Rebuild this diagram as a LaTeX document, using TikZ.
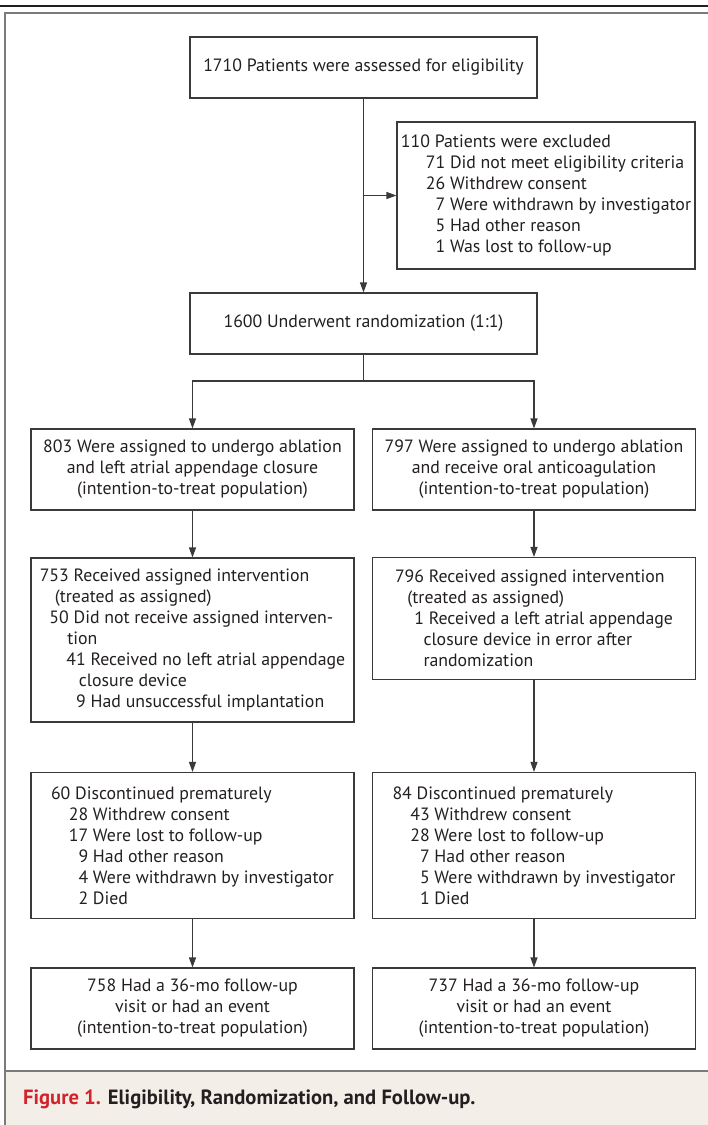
\documentclass[tikz,border=0pt]{standalone}
\usepackage{fontspec}
\setmainfont{PT Sans}
\usetikzlibrary{arrows.meta}
\definecolor{linegray}{HTML}{3A3A3A}
\definecolor{framegray}{HTML}{7A7A7A}
\definecolor{capbg}{HTML}{F3EFE8}
\definecolor{figred}{HTML}{D2232A}
\definecolor{inkdark}{HTML}{231F20}
\newcommand{\dg}{\phantom{0}} % one digit of space

\begin{document}
\begin{tikzpicture}[x=1pt, y=-1pt, >={Triangle[length=10pt,width=7pt]},
box/.style={draw=linegray, line width=1.1pt, text=inkdark, inner sep=0pt,
  font=\fontsize{17.8}{21}\selectfont},
wide/.style={minimum width=347pt, minimum height=61pt},
col/.style={minimum width=323pt},
flow/.style={->, draw=linegray, line width=1.1pt},
frame/.style={draw=framegray, line width=2pt}]
\useasboundingbox (0,0) rectangle (708,1125);
%%%%%%%%%%%%%%%%%%%%%%% PAGE RULES %%%%%%%%%%%%%%%%%%%%%%%
\draw[line width=2pt, inkdark] (0,6) -- (708,6);
\fill[capbg] (5,1071) rectangle (708,1125);
\draw[frame] (708,13) -- (5,13) -- (5,1125);
\draw[frame] (5,1071) -- (708,1071);
%%%%%%%%%%%%%%%%%%%%%%% TOP %%%%%%%%%%%%%%%%%%%%%%%
\node[box, wide] (elig) at (363.5,67.5) {1710 Patients were assessed for eligibility};
\node[box, align=left, minimum width=298pt, minimum height=147pt] (excl) at (546,195.5) {110 Patients were excluded\\
\hspace*{1.4em}71 Did not meet eligibility criteria\\
\hspace*{1.4em}26 Withdrew consent\\
\hspace*{1.4em}\dg7 Were withdrawn by investigator\\
\hspace*{1.4em}\dg5 Had other reason\\
\hspace*{1.4em}\dg1 Was lost to follow-up};
\node[box, wide] (rand) at (363.5,323.5) {1600 Underwent randomization (1:1)};
%%%%%%%%%%%%%%%%%%%%%%% LEFT ARM %%%%%%%%%%%%%%%%%%%%%%%
\node[box, col, align=center, minimum height=81pt] (assignL) at (192.5,469.5) {803 Were assigned to undergo ablation\\
and left atrial appendage closure\\
(intention-to-treat population)};
\node[box, col, align=left, minimum height=164pt] (recvL) at (192.5,640) {753 Received assigned intervention\\
\hspace*{0.85em}(treated as assigned)\\
\dg50 Did not receive assigned interven-\\
\hspace*{1.55em}tion\\
\hspace*{1.5em}41 Received no left atrial appendage\\
\hspace*{2.2em}closure device\\
\hspace*{1.5em}\dg9 Had unsuccessful implantation};
\node[box, col, align=left, minimum height=146pt] (discL) at (192.5,845.5) {60 Discontinued prematurely\\
\hspace*{1em}28 Withdrew consent\\
\hspace*{1em}17 Were lost to follow-up\\
\hspace*{1em}\dg9 Had other reason\\
\hspace*{1em}\dg4 Were withdrawn by investigator\\
\hspace*{1em}\dg2 Died};
\node[box, col, align=center, minimum height=81pt] (fuL) at (192.5,1008.5) {758 Had a 36-mo follow-up\\
visit or had an event\\
(intention-to-treat population)};
%%%%%%%%%%%%%%%%%%%%%%% RIGHT ARM %%%%%%%%%%%%%%%%%%%%%%%
\node[box, col, align=center, minimum height=81pt] (assignR) at (534,469.5) {797 Were assigned to undergo ablation\\
and receive oral anticoagulation\\
(intention-to-treat population)};
\node[box, col, align=left, minimum height=122pt] (recvR) at (534,618.5) {796 Received assigned intervention\\
\hspace*{0.7em}(treated as assigned)\\
\dg\dg1 Received a left atrial appendage\\
\hspace*{1.6em}closure device in error after\\
\hspace*{1.6em}randomization};
\node[box, col, align=left, minimum height=146pt] (discR) at (534,845.5) {84 Discontinued prematurely\\
\hspace*{1em}43 Withdrew consent\\
\hspace*{1em}28 Were lost to follow-up\\
\hspace*{1em}\dg7 Had other reason\\
\hspace*{1em}\dg5 Were withdrawn by investigator\\
\hspace*{1em}\dg1 Died};
\node[box, col, align=center, minimum height=81pt] (fuR) at (534,1008.5) {737 Had a 36-mo follow-up\\
visit or had an event\\
(intention-to-treat population)};
%%%%%%%%%%%%%%%%%%%%%%% CONNECTORS %%%%%%%%%%%%%%%%%%%%%%%
\coordinate (exclpt) at (elig.south |- excl.west);
\coordinate (split) at (363.5,381);
\draw[flow] (elig) -- (rand);
\draw[flow] (exclpt) -- (excl.west);
\draw[draw=linegray, line width=1.1pt] (rand) -- (split);
\draw[flow] (split) -| (assignL.north);
\draw[flow] (split) -| (assignR.north);
\draw[flow] (assignL) -- (recvL);
\draw[flow] (recvL) -- (discL);
\draw[flow] (discL) -- (fuL);
\draw[flow] (assignR) -- (recvR);
\draw[flow] (recvR) -- (discR);
\draw[flow] (discR) -- (fuR);
%%%%%%%%%%%%%%%%%%%%%%% CAPTION %%%%%%%%%%%%%%%%%%%%%%%
\node[anchor=base west, inner sep=0pt, text=inkdark, font=\bfseries\fontsize{20.6}{24}\selectfont] (caption) at (23,1104) {\textcolor{figred}{Figure 1.} Eligibility, Randomization, and Follow-up.};
\end{tikzpicture}
\end{document}
